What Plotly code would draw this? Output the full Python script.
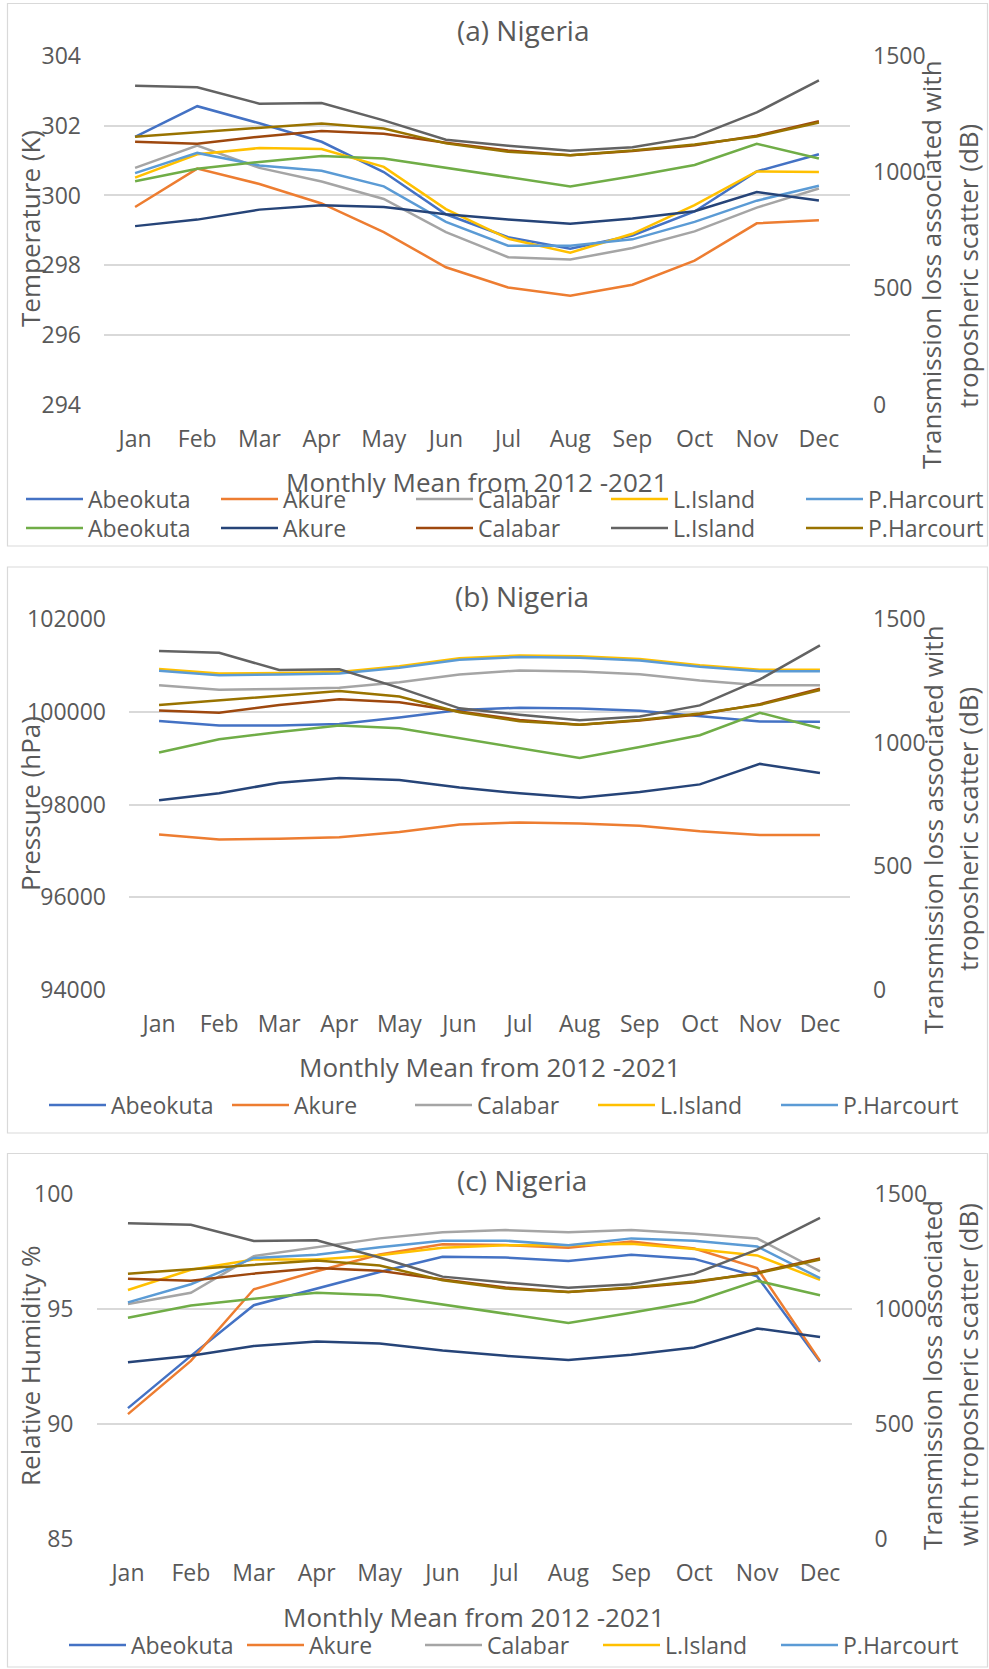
import plotly.graph_objects as go

months = ["Jan", "Feb", "Mar", "Apr", "May", "Jun", "Jul", "Aug", "Sep", "Oct", "Nov", "Dec"]
stations = ["Abeokuta", "Akure", "Calabar", "L.Island", "P.Harcourt"]

# (a) Temperature (K)
temp_abeokuta = [301.68, 302.56, 302.07, 301.54, 300.67, 299.46, 298.80, 298.47, 298.85, 299.54, 300.69, 301.18]
temp_akure = [299.67, 300.77, 300.33, 299.77, 298.95, 297.94, 297.36, 297.12, 297.44, 298.13, 299.20, 299.29]
temp_calabar = [300.79, 301.43, 300.79, 300.40, 299.90, 298.95, 298.23, 298.16, 298.49, 298.97, 299.65, 300.20]
temp_lisland = [300.51, 301.18, 301.36, 301.33, 300.82, 299.61, 298.76, 298.36, 298.90, 299.72, 300.69, 300.67]
temp_pharcourt = [300.64, 301.22, 300.86, 300.71, 300.26, 299.24, 298.56, 298.56, 298.74, 299.24, 299.85, 300.28]

# (b) Pressure (hPa)
pres_abeokuta = [99804, 99709, 99709, 99741, 99884, 100044, 100092, 100076, 100028, 99916, 99796, 99788]
pres_akure = [97353, 97250, 97266, 97297, 97409, 97569, 97617, 97593, 97545, 97425, 97345, 97345]
pres_calabar = [100579, 100483, 100499, 100523, 100643, 100810, 100898, 100874, 100818, 100683, 100579, 100579]
pres_lisland = [100930, 100834, 100842, 100866, 100986, 101162, 101218, 101202, 101146, 101010, 100914, 100914]
pres_pharcourt = [100890, 100794, 100810, 100834, 100954, 101130, 101186, 101170, 101114, 100978, 100882, 100882]

# (c) Relative humidity (%)
rh_abeokuta = [90.69, 92.96, 95.16, 95.89, 96.60, 97.26, 97.23, 97.08, 97.35, 97.17, 96.41, 92.70]
rh_akure = [90.43, 92.74, 95.85, 96.63, 97.36, 97.80, 97.77, 97.65, 97.92, 97.62, 96.77, 92.74]
rh_calabar = [95.21, 95.70, 97.29, 97.68, 98.06, 98.33, 98.42, 98.33, 98.42, 98.26, 98.06, 96.63]
rh_lisland = [95.82, 96.70, 97.14, 97.14, 97.33, 97.65, 97.76, 97.76, 97.83, 97.60, 97.32, 96.26]
rh_pharcourt = [95.28, 96.07, 97.21, 97.35, 97.68, 97.96, 97.96, 97.76, 98.06, 97.96, 97.71, 96.33]

# Transmission loss associated with troposheric scatter (dB) - secondary axis
tl_abeokuta = [961, 1015, 1044, 1070, 1059, 1020, 979, 939, 983, 1031, 1122, 1059]
tl_akure = [768, 796, 839, 858, 850, 819, 796, 778, 801, 832, 915, 878]
tl_calabar = [1131, 1122, 1153, 1177, 1165, 1127, 1093, 1073, 1091, 1116, 1157, 1219]
tl_lisland = [1372, 1365, 1295, 1298, 1223, 1140, 1114, 1092, 1107, 1152, 1257, 1395]
tl_pharcourt = [1153, 1173, 1193, 1210, 1188, 1124, 1088, 1073, 1093, 1119, 1154, 1214]

left_colors = ["#4472C4", "#ED7D31", "#A5A5A5", "#FFC000", "#5B9BD5"]
right_colors = ["#70AD47", "#264478", "#9E480E", "#636363", "#997300"]

temps = [temp_abeokuta, temp_akure, temp_calabar, temp_lisland, temp_pharcourt]
press = [pres_abeokuta, pres_akure, pres_calabar, pres_lisland, pres_pharcourt]
rhs = [rh_abeokuta, rh_akure, rh_calabar, rh_lisland, rh_pharcourt]
tls = [tl_abeokuta, tl_akure, tl_calabar, tl_lisland, tl_pharcourt]

W, H = 989, 1669
FONT = "Open Sans"
TXT = "#595959"
GRID = "#D9D9D9"
LW = 2.5


def px(x):
    return x / W


def py(y):
    return 1 - y / H


fig = go.Figure()

panels = [
    ("x", "y", "y2", temps, "legend", "legend4"),
    ("x2", "y3", "y4", press, "legend2", None),
    ("x3", "y5", "y6", rhs, "legend3", None),
]
for xa, ya, ya2, left_data, leg, leg2 in panels:
    for i, (name, vals, col) in enumerate(zip(stations, left_data, left_colors)):
        extra = dict(legendwidth=130) if i == 4 else {}
        fig.add_trace(go.Scatter(x=months, y=vals, name=name, mode="lines",
                                 line=dict(color=col, width=LW),
                                 xaxis=xa, yaxis=ya, legend=leg, hoverinfo="skip", **extra))
    for i, (name, vals, col) in enumerate(zip(stations, tls, right_colors)):
        extra = dict(legendwidth=130) if i == 4 else {}
        fig.add_trace(go.Scatter(x=months, y=vals, name=name, mode="lines",
                                 line=dict(color=col, width=LW),
                                 xaxis=xa, yaxis=ya2,
                                 legend=leg2 if leg2 else "legend",
                                 showlegend=leg2 is not None, hoverinfo="skip", **extra))

tickfont = dict(family=FONT, size=23, color=TXT)

xcommon = dict(type="category", range=[-0.5, 11.5], showgrid=False, zeroline=False, showline=False,
               ticks="", tickfont=tickfont, ticklabelstandoff=18, fixedrange=True)
ycommon = dict(showgrid=True, gridcolor=GRID, gridwidth=1.5, zeroline=False, showline=False,
               ticks="", tickfont=tickfont, ticklabelstandoff=22, fixedrange=True,
               tickformat="d")
y2common = dict(showgrid=False, zeroline=False, showline=False, ticks="", side="right",
                range=[0, 1500], dtick=500, tick0=0, tickfont=tickfont,
                ticklabelstandoff=22, fixedrange=True, tickformat="d")

dom_a = dict(x=[px(104), px(850)], y=[py(404.6), py(56)])
dom_b = dict(x=[px(129), px(850)], y=[py(989.9), py(619.4)])
dom_c = dict(x=[px(96.5), px(851.5)], y=[py(1539.2), py(1193.7)])

fig.update_layout(
    xaxis=dict(domain=dom_a["x"], anchor="y", **xcommon),
    yaxis=dict(domain=dom_a["y"], anchor="x", range=[294, 304], dtick=2, tick0=294, **ycommon),
    yaxis2=dict(overlaying="y", anchor="x", **y2common),
    xaxis2=dict(domain=dom_b["x"], anchor="y3", **xcommon),
    yaxis3=dict(domain=dom_b["y"], anchor="x2", range=[94000, 102000], dtick=2000, tick0=94000, **ycommon),
    yaxis4=dict(overlaying="y3", anchor="x2", **y2common),
    xaxis3=dict(domain=dom_c["x"], anchor="y5", **xcommon),
    yaxis5=dict(domain=dom_c["y"], anchor="x3", range=[85, 100], dtick=5, tick0=85, **ycommon),
    yaxis6=dict(overlaying="y5", anchor="x3", **y2common),
)

legfont = dict(family=FONT, size=23, color=TXT)
legcommon = dict(orientation="h", xanchor="left", yanchor="middle", bgcolor="rgba(0,0,0,0)",
                 font=legfont, itemwidth=57, entrywidthmode="pixels", tracegroupgap=0,
                 itemclick=False, itemdoubleclick=False)
fig.update_layout(
    legend=dict(x=px(21), y=py(499), entrywidth=123, **legcommon),
    legend4=dict(x=px(21), y=py(528), entrywidth=123, **legcommon),
    legend2=dict(x=px(44), y=py(1105), entrywidth=111, **legcommon),
    legend3=dict(x=px(64), y=py(1645), entrywidth=106, **legcommon),
)

annos = []


def add_text(text, x, y, size, angle=0):
    annos.append(dict(text=text, x=px(x), y=py(y), xref="paper", yref="paper",
                      xanchor="center", yanchor="middle", showarrow=False,
                      textangle=angle, font=dict(family=FONT, size=size, color=TXT)))


# titles
add_text("(a) Nigeria", 523, 30, 28)
add_text("(b) Nigeria", 522, 596, 28)
add_text("(c) Nigeria", 522, 1180, 28)
# x-axis titles
add_text("Monthly Mean from 2012 -2021", 477, 482, 26)
add_text("Monthly Mean from 2012 -2021", 490, 1067, 26)
add_text("Monthly Mean from 2012 -2021", 474, 1617, 26)
# left y-axis titles
add_text("Temperature (K)", 30, 229, 26, -90)
add_text("Pressure (hPa)", 30, 804, 26, -90)
add_text("Relative Humidity %", 30, 1366, 26, -90)
# right y-axis titles
add_text("Transmission loss associated with", 931, 265, 26, -90)
add_text("troposheric scatter (dB)", 968, 266, 26, -90)
add_text("Transmission loss associated with", 933, 830, 26, -90)
add_text("troposheric scatter (dB)", 968, 829, 26, -90)
add_text("Transmission loss associated", 932, 1375, 26, -90)
add_text("with troposheric scatter (dB)", 968, 1375, 26, -90)

shapes = []
for (x0, y0, x1, y1) in [(7.5, 3.5, 987.5, 546), (7.5, 567, 987.5, 1133), (7.5, 1153.5, 987.5, 1667)]:
    shapes.append(dict(type="rect", xref="paper", yref="paper", x0=px(x0), x1=px(x1),
                       y0=py(y1), y1=py(y0), line=dict(color=GRID, width=1.2), layer="below"))

fig.update_layout(
    width=W, height=H, margin=dict(l=0, r=0, t=0, b=0, autoexpand=False),
    paper_bgcolor="white", plot_bgcolor="white",
    annotations=annos, shapes=shapes,
    font=dict(family=FONT, color=TXT),
    showlegend=True,
)

fig.write_html("out.html", config={"displayModeBar": False},
               post_script="document.body.style.margin='0';document.body.style.overflow='hidden';")
